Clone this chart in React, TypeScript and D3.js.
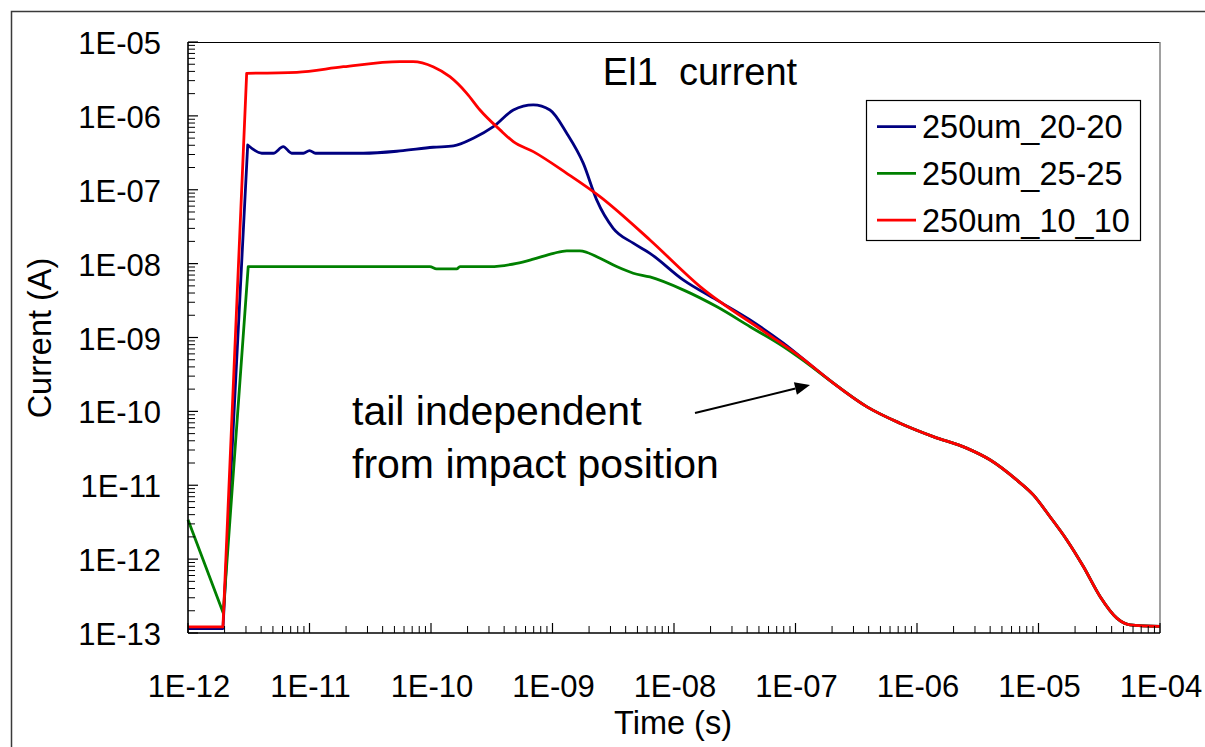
import React from "react";
import * as d3 from "d3";

// El1 current vs time, three impact positions (log-log)
const seriesNames = ["250um_20-20", "250um_25-25", "250um_10_10"];
const seriesColors = ["#000080", "#008000", "#FF0000"];

// common tail (all three curves coincide here)
const tailTime = [2.05e-7, 3.85e-7, 7.24e-7, 1.36e-6, 2.56e-6, 3.98e-6, 6.61e-6, 9.06e-6, 1.24e-5, 1.71e-5, 2.34e-5, 3.21e-5, 4.41e-5, 5.66e-5, 1e-4];
const tailCurrent = [2.41e-10, 1.16e-10, 6.92e-11, 4.56e-11, 3.18e-11, 2.21e-11, 1.18e-11, 7.41e-12, 3.78e-12, 1.82e-12, 7.94e-13, 3.12e-13, 1.59e-13, 1.29e-13, 1.23e-13];

const blueTime = [1e-12, 1.94e-12, 3.1e-12, 4.05e-12, 5.04e-12, 6.08e-12, 7.13e-12, 8.9e-12, 1e-11, 1.12e-11, 2.77e-11, 5.56e-11, 1.04e-10, 1.53e-10, 2.23e-10, 3.26e-10, 4.76e-10, 6.95e-10, 9.53e-10, 1.31e-9, 1.79e-9, 2.31e-9, 3.16e-9, 4.62e-9, 6.34e-9, 1.19e-8, 2.24e-8, 4.23e-8, 7.94e-8, 1.49e-7];
const blueCurrent = [1.15e-13, 1.15e-13, 4.04e-7, 3.12e-7, 3.12e-7, 3.83e-7, 3.12e-7, 3.12e-7, 3.39e-7, 3.12e-7, 3.12e-7, 3.35e-7, 3.76e-7, 3.92e-7, 4.98e-7, 7.14e-7, 1.2e-6, 1.41e-6, 1.2e-6, 5.82e-7, 2.29e-7, 7.28e-8, 3.01e-8, 1.89e-8, 1.38e-8, 6.03e-9, 3.23e-9, 1.73e-9, 8.38e-10, 3.65e-10];

const greenTime = [1e-12, 1.95e-12, 3.13e-12, 9.8e-11, 1.11e-10, 1.63e-10, 1.73e-10, 3.06e-10, 5.07e-10, 6.95e-10, 1.02e-9, 1.31e-9, 1.68e-9, 2.46e-9, 3.37e-9, 4.62e-9, 6.34e-9, 1.19e-8, 2.24e-8, 4.23e-8, 7.94e-8, 1.09e-7];
const greenCurrent = [3.4e-12, 1.86e-13, 9.12e-9, 9.12e-9, 8.51e-9, 8.51e-9, 9.12e-9, 9.12e-9, 1.01e-8, 1.15e-8, 1.38e-8, 1.49e-8, 1.49e-8, 1.18e-8, 9.12e-9, 7.41e-9, 6.6e-9, 4.41e-9, 2.62e-9, 1.4e-9, 7.53e-10, 5.25e-10];

const redTime = [1e-12, 1.94e-12, 3.04e-12, 7.85e-12, 1.9e-11, 5.56e-11, 7.11e-11, 1.04e-10, 1.43e-10, 1.97e-10, 2.53e-10, 3.7e-10, 4.76e-10, 6.95e-10, 1.31e-9, 2.46e-9, 6.34e-9, 1.64e-8, 5.79e-8, 1.09e-7];
const redCurrent = [1.21e-13, 1.21e-13, 3.77e-6, 3.89e-6, 4.63e-6, 5.42e-6, 5.42e-6, 4.63e-6, 3.39e-6, 2.02e-6, 1.2e-6, 6.46e-7, 4.48e-7, 3.28e-7, 1.67e-7, 8.07e-8, 2.09e-8, 4.89e-9, 1.14e-9, 5.52e-10];

const xTickLabels = ["1E-12", "1E-11", "1E-10", "1E-09", "1E-08", "1E-07", "1E-06", "1E-05", "1E-04"];
const yTickLabels = ["1E-13", "1E-12", "1E-11", "1E-10", "1E-09", "1E-08", "1E-07", "1E-06", "1E-05"];

const W = 1205;
const H = 747;
const M = { left: 188, right: 1160, top: 42, bottom: 633 };
const FONT = "'Liberation Sans', Arial, sans-serif";

export default function App() {
  const x = d3.scaleLog().domain([1e-12, 1e-4]).range([M.left, M.right]);
  const y = d3.scaleLog().domain([1e-13, 1e-5]).range([M.bottom, M.top]);

  const build = (t: number[], c: number[]) => {
    const pts: [number, number][] = t.map((v, i) => [v, c[i]]);
    tailTime.forEach((v, i) => pts.push([v, tailCurrent[i]]));
    return pts;
  };
  const series = [
    build(blueTime, blueCurrent),
    build(greenTime, greenCurrent),
    build(redTime, redCurrent),
  ];
  // straight segments up to the switch-on edge, smooth response afterwards
  const straight = d3
    .line<[number, number]>()
    .x((d) => x(d[0]))
    .y((d) => y(d[1]));
  const smooth = d3
    .line<[number, number]>()
    .x((d) => x(d[0]))
    .y((d) => y(d[1]))
    .curve(d3.curveMonotoneX);
  const pathFor = (s: [number, number][]) =>
    (straight(s.slice(0, 3)) || "") + (smooth(s.slice(2)) || "").replace(/^M/, "L");

  const decadesX = d3.range(-12, -3).map((e) => Math.pow(10, e));
  const decadesY = d3.range(-13, -4).map((e) => Math.pow(10, e));
  const minorX: number[] = [];
  decadesX.slice(0, -1).forEach((d) => {
    for (let m = 2; m <= 9; m++) minorX.push(d * m);
  });
  const minorY: number[] = [];
  decadesY.slice(0, -1).forEach((d) => {
    for (let m = 2; m <= 9; m++) minorY.push(d * m);
  });

  // annotation arrow
  const a0 = [695, 413];
  const a1 = [810, 385];
  const dx = a1[0] - a0[0];
  const dy = a1[1] - a0[1];
  const len = Math.hypot(dx, dy);
  const ux = dx / len;
  const uy = dy / len;
  const hl = 15;
  const hw = 6.5;
  const bx = a1[0] - ux * hl;
  const by = a1[1] - uy * hl;
  const head = `${a1[0]},${a1[1]} ${bx - uy * hw},${by + ux * hw} ${bx + uy * hw},${by - ux * hw}`;

  return (
    <svg
      width={W}
      height={H}
      style={{ position: "absolute", left: 0, top: 0, background: "#fff" }}
      fontFamily={FONT}
    >
      <rect x={0} y={0} width={W} height={H} fill="#fff" />
      {/* chart frame */}
      <rect x={11.5} y={11.5} width={1300} height={900} fill="none" stroke="#3a3a3a" strokeWidth={1.5} />

      {/* plot area border */}
      <line x1={M.left} x2={M.right} y1={M.top + 0.5} y2={M.top + 0.5} stroke="#000" strokeWidth={1.2} />
      <line x1={M.right} x2={M.right} y1={M.top} y2={M.bottom} stroke="#808080" strokeWidth={1.5} />

      {/* series */}
      <g>
        {series.map((s, i) => (
          <path
            key={seriesNames[i]}
            d={pathFor(s)}
            fill="none"
            stroke={seriesColors[i]}
            strokeWidth={2.8}
            strokeLinejoin="round"
          />
        ))}
      </g>

      {/* axes */}
      <line x1={M.left} x2={M.left} y1={M.top} y2={M.bottom} stroke="#000" strokeWidth={1.6} />
      <line x1={M.left} x2={M.right} y1={M.bottom} y2={M.bottom} stroke="#000" strokeWidth={1.6} />
      {decadesY.map((v) => (
        <line key={"yM" + v} x1={M.left} x2={M.left + 10} y1={y(v)} y2={y(v)} stroke="#000" strokeWidth={1.2} />
      ))}
      {minorY.map((v) => (
        <line key={"ym" + v} x1={M.left} x2={M.left + 7} y1={y(v)} y2={y(v)} stroke="#000" strokeWidth={1} />
      ))}
      {decadesX.map((v) => (
        <line key={"xM" + v} x1={x(v)} x2={x(v)} y1={M.bottom} y2={M.bottom - 10} stroke="#000" strokeWidth={1.2} />
      ))}
      {minorX.map((v) => (
        <line key={"xm" + v} x1={x(v)} x2={x(v)} y1={M.bottom} y2={M.bottom - 7} stroke="#000" strokeWidth={1} />
      ))}

      {/* tick labels */}
      {decadesY.map((v, i) => (
        <text key={"yl" + i} x={161} y={y(v) + 12} textAnchor="end" fontSize={31} fill="#000">
          {yTickLabels[i]}
        </text>
      ))}
      {decadesX.map((v, i) => (
        <text key={"xl" + i} x={x(v) + 1} y={697} textAnchor="middle" fontSize={31} fill="#000">
          {xTickLabels[i]}
        </text>
      ))}

      {/* axis titles */}
      <text x={673} y={734} textAnchor="middle" fontSize={32.5} fill="#000">
        Time (s)
      </text>
      <text transform="translate(51,338) rotate(-90)" textAnchor="middle" fontSize={32.5} fill="#000">
        Current (A)
      </text>

      {/* title */}
      <text x={700} y={85} textAnchor="middle" fontSize={38} fill="#000" style={{ whiteSpace: "pre" }}>
        {"El1  current"}
      </text>

      {/* legend */}
      <rect x={866.5} y={100.5} width={274} height={140} fill="#fff" stroke="#000" strokeWidth={1.2} />
      {seriesNames.map((n, i) => (
        <g key={n}>
          <line x1={877} x2={916} y1={126.7 + i * 46.7} y2={126.7 + i * 46.7} stroke={seriesColors[i]} strokeWidth={2.8} />
          <text x={922} y={138.3 + i * 46.7} fontSize={32.5} fill="#000">
            {n}
          </text>
        </g>
      ))}

      {/* annotation */}
      <text x={352} y={425} fontSize={41} fill="#000">
        tail independent
      </text>
      <text x={352} y={477.5} fontSize={41} fill="#000">
        from impact position
      </text>
      <line x1={a0[0]} y1={a0[1]} x2={bx} y2={by} stroke="#000" strokeWidth={2} />
      <polygon points={head} fill="#000" />
    </svg>
  );
}
